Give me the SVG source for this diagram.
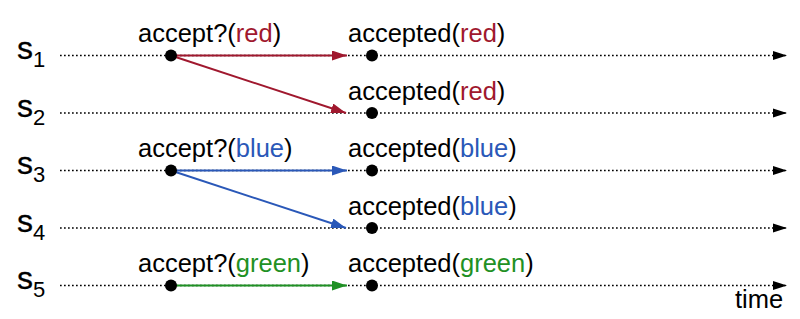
<svg xmlns="http://www.w3.org/2000/svg" width="800" height="319" viewBox="0 0 800 319">
<defs>
<style>
.tl{stroke:#000;stroke-width:1.7;stroke-dasharray:1.7 2.3;fill:none}
.t{font-family:"Liberation Sans",Arial,sans-serif;font-size:25.5px;fill:#000}
.s{font-family:"Liberation Sans",Arial,sans-serif;font-size:32px;fill:#000;stroke:#000;stroke-width:0.3}
.sub{font-size:22px;stroke-width:0}
.red{fill:#a0182e}.blue{fill:#2a58b8}.green{fill:#1f9124}
.ar{stroke:#a0182e;stroke-width:2;fill:none}
.ab{stroke:#2a58b8;stroke-width:2;fill:none}
.ag{stroke:#1f9124;stroke-width:2;fill:none}
.dot{fill:#000}
</style>
<marker id="mk" markerUnits="userSpaceOnUse" markerWidth="14" markerHeight="10" refX="14" refY="5" orient="auto"><path d="M0,0.5L14,5L0,9.5z" fill="#000"/></marker>
<marker id="mr" markerUnits="userSpaceOnUse" markerWidth="15" markerHeight="10" refX="15" refY="5" orient="auto"><path d="M0,0L15,5L0,10z" fill="#a0182e"/></marker>
<marker id="mb" markerUnits="userSpaceOnUse" markerWidth="15" markerHeight="10" refX="15" refY="5" orient="auto"><path d="M0,0L15,5L0,10z" fill="#2a58b8"/></marker>
<marker id="mg" markerUnits="userSpaceOnUse" markerWidth="15" markerHeight="10" refX="15" refY="5" orient="auto"><path d="M0,0L15,5L0,10z" fill="#1f9124"/></marker>
</defs>
<g id="timelines">
<g id="s1"><text class="s" x="17" y="59">s<tspan class="sub" dy="8">1</tspan></text><line class="tl" x1="60" y1="55.5" x2="787" y2="55.5" marker-end="url(#mk)"/></g>
<g id="s2"><text class="s" x="17" y="117">s<tspan class="sub" dy="8">2</tspan></text><line class="tl" x1="60" y1="113" x2="787" y2="113" marker-end="url(#mk)"/></g>
<g id="s3"><text class="s" x="17" y="174">s<tspan class="sub" dy="8">3</tspan></text><line class="tl" x1="60" y1="170.5" x2="787" y2="170.5" marker-end="url(#mk)"/></g>
<g id="s4"><text class="s" x="17" y="232">s<tspan class="sub" dy="8">4</tspan></text><line class="tl" x1="60" y1="228" x2="787" y2="228" marker-end="url(#mk)"/></g>
<g id="s5"><text class="s" x="17" y="289">s<tspan class="sub" dy="8">5</tspan></text><line class="tl" x1="60" y1="285.5" x2="787" y2="285.5" marker-end="url(#mk)"/></g>
<text id="time" class="t" x="735" y="308">time</text>
</g>
<g id="connectors">
<line class="ar" x1="171" y1="55.5" x2="347" y2="55.5" marker-end="url(#mr)"/>
<line class="ar" x1="171" y1="55.5" x2="346" y2="113" marker-end="url(#mr)"/>
<line class="ab" x1="171" y1="170.5" x2="347" y2="170.5" marker-end="url(#mb)"/>
<line class="ab" x1="171" y1="170.5" x2="346" y2="228" marker-end="url(#mb)"/>
<line class="ag" x1="171" y1="285.5" x2="347" y2="285.5" marker-end="url(#mg)"/>
</g>
<g id="send-red"><circle class="dot" cx="171" cy="55.5" r="6"/><text class="t" x="138" y="42">accept?(<tspan class="red">red</tspan>)</text></g>
<g id="recv-red-1"><circle class="dot" cx="372" cy="55.5" r="6"/><text class="t" x="348" y="42">accepted(<tspan class="red">red</tspan>)</text></g>
<g id="recv-red-2"><circle class="dot" cx="372" cy="113" r="6"/><text class="t" x="348" y="100">accepted(<tspan class="red">red</tspan>)</text></g>
<g id="send-blue"><circle class="dot" cx="171" cy="170.5" r="6"/><text class="t" x="138" y="157">accept?(<tspan class="blue">blue</tspan>)</text></g>
<g id="recv-blue-3"><circle class="dot" cx="372" cy="170.5" r="6"/><text class="t" x="348" y="157">accepted(<tspan class="blue">blue</tspan>)</text></g>
<g id="recv-blue-4"><circle class="dot" cx="372" cy="228" r="6"/><text class="t" x="348" y="215">accepted(<tspan class="blue">blue</tspan>)</text></g>
<g id="send-green"><circle class="dot" cx="171" cy="285.5" r="6"/><text class="t" x="138" y="272">accept?(<tspan class="green">green</tspan>)</text></g>
<g id="recv-green"><circle class="dot" cx="372" cy="285.5" r="6"/><text class="t" x="348" y="272">accepted(<tspan class="green">green</tspan>)</text></g>
</svg>
